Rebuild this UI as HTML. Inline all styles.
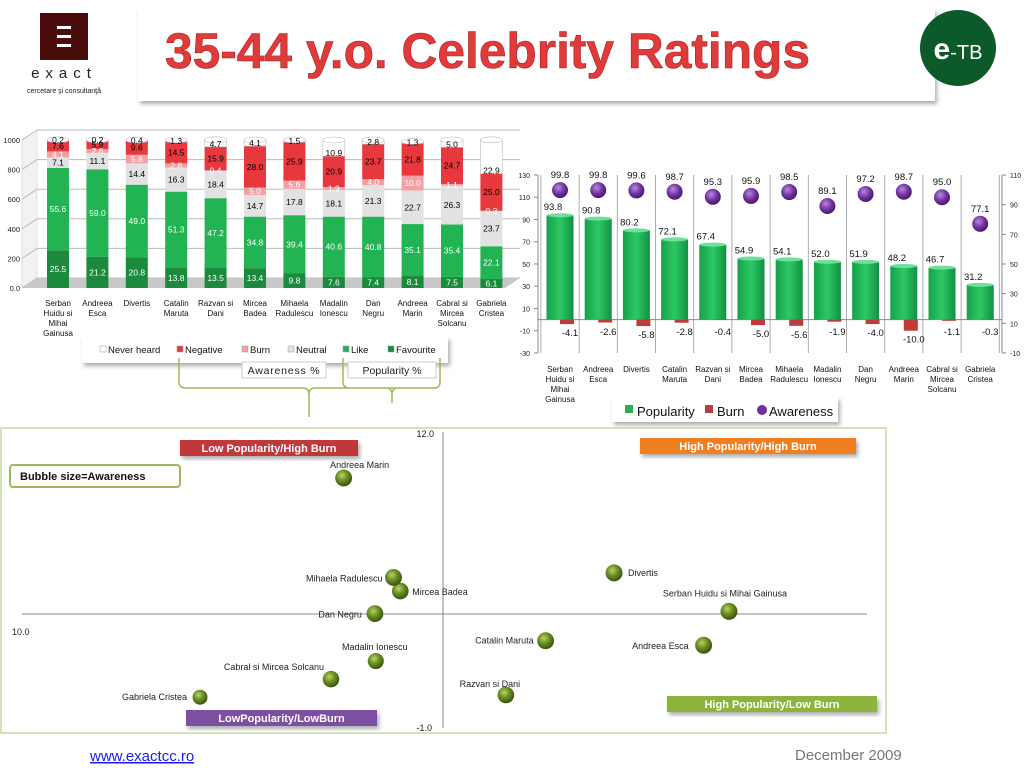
<!DOCTYPE html>
<html><head><meta charset="utf-8"><style>
html,body{margin:0;padding:0;background:#fff;}
svg{display:block;font-family:"Liberation Sans",sans-serif;}
</style></head><body>
<svg id="s" width="1024" height="768" viewBox="0 0 1024 768" xmlns="http://www.w3.org/2000/svg">
<defs>
<radialGradient id="bubgrad" cx="40%" cy="35%" r="65%"><stop offset="0" stop-color="#b7d36a"/><stop offset="0.5" stop-color="#6a8e22"/><stop offset="1" stop-color="#3b5410"/></radialGradient>
<radialGradient id="pur" cx="40%" cy="35%" r="65%"><stop offset="0" stop-color="#b58ad8"/><stop offset="0.6" stop-color="#7030a0"/><stop offset="1" stop-color="#4a1a70"/></radialGradient>
<linearGradient id="gbar" x1="0" x2="1"><stop offset="0" stop-color="#16a14a"/><stop offset="0.5" stop-color="#2dc864"/><stop offset="1" stop-color="#139042"/></linearGradient>
<filter id="sh" x="-10%" y="-10%" width="130%" height="140%"><feDropShadow dx="2" dy="3" stdDeviation="2" flood-color="#888" flood-opacity="0.7"/></filter>
</defs>
<!-- header -->
<g>
<rect x="40" y="13" width="48" height="47" fill="#4a0b0b"/>
<rect x="57" y="26" width="14" height="3" fill="#fff"/><rect x="57" y="35" width="14" height="3" fill="#fff"/><rect x="57" y="44" width="14" height="3" fill="#fff"/>
<text x="64" y="78" font-size="15" text-anchor="middle" letter-spacing="6" fill="#222">exact</text>
<text x="64" y="93" font-size="7" text-anchor="middle" fill="#222">cercetare şi consultanţă</text>
</g>
<rect x="138" y="9" width="797" height="92" fill="#fff" filter="url(#sh)"/>
<text x="165" y="68" font-size="50" font-weight="bold" textLength="645" lengthAdjust="spacingAndGlyphs" fill="#e03a3a" stroke="#b02020" stroke-width="0.6">35-44 y.o. Celebrity Ratings</text>
<g><circle cx="958" cy="48" r="38" fill="#0c5a2a"/><text x="958" y="59" font-size="30" font-weight="bold" fill="#fff" text-anchor="middle">e<tspan font-size="20" font-weight="normal">-TB</tspan></text></g>

<g id="leftg"></g>
<g id="rightg"></g>
<g id="bubg"></g>

<text x="90" y="761" font-size="15" fill="#1a1aff" text-decoration="underline">www.exactcc.ro</text>
<text x="795" y="760" font-size="15" fill="#777">December  2009</text>
</svg>
<script>
const NS='http://www.w3.org/2000/svg';
const names=[["Serban","Huidu si","Mihai","Gainusa"],["Andreea","Esca"],["Divertis"],["Catalin","Maruta"],["Razvan si","Dani"],["Mircea","Badea"],["Mihaela","Radulescu"],["Madalin","Ionescu"],["Dan","Negru"],["Andreea","Marin"],["Cabral si","Mircea","Solcanu"],["Gabriela","Cristea"]];
const favourite=[25.5,21.2,20.8,13.8,13.5,13.4,9.8,7.6,7.4,8.1,7.5,6.1];
const like=[55.6,59.0,49.0,51.3,47.2,34.8,39.4,40.6,40.8,35.1,35.4,22.1];
const neutral=[7.1,11.1,14.4,16.3,18.4,14.7,17.8,18.1,21.3,22.7,26.3,23.7];
const burnPct=[4.1,2.6,5.8,2.8,0.4,5.0,5.6,1.9,4.0,10.0,1.1,0.3];
const negative=[7.6,5.9,9.6,14.5,15.9,28.0,25.9,20.9,23.7,21.8,24.7,25.0];
const neverHeard=[0.2,0.2,0.4,1.3,4.7,4.1,1.5,10.9,2.8,1.3,5.0,22.9];
const leftTicks=["0.0","200","400","600","800","1000"];
const popularity=[93.8,90.8,80.2,72.1,67.4,54.9,54.1,52.0,51.9,48.2,46.7,31.2];
const burn=[-4.1,-2.6,-5.8,-2.8,-0.4,-5.0,-5.6,-1.9,-4.0,-10.0,-1.1,-0.3];
const awareness=[99.8,99.8,99.6,98.7,95.3,95.9,98.5,89.1,97.2,98.7,95.0,77.1];
const rightTicksL=[-30,-10,10,30,50,70,90,110,130];
const rightTicksR=[-10,10,30,50,70,90,110];
const bubbleLabels=["Serban Huidu si Mihai Gainusa","Andreea Esca","Divertis","Catalin Maruta","Razvan si Dani","Mircea Badea","Mihaela Radulescu","Madalin Ionescu","Dan Negru","Andreea Marin","Cabral si Mircea Solcanu","Gabriela Cristea"];

function el(p,tag,a,txt){const e=document.createElementNS(NS,tag);for(const k in a)e.setAttribute(k,a[k]);if(txt!==undefined)e.textContent=txt;p.appendChild(e);return e;}

// LEFT stacked chart
const L=document.getElementById('leftg');
const ly=v=>288-v*1.48; const lx=i=>58+i*39.4;
el(L,'polygon',{points:'22,288 37,278 37,130 22,140',fill:'#f2f2f2',stroke:'#ccc','stroke-width':0.5});
leftTicks.forEach((t,k)=>{const y=ly(k*20);
 const g=el(L,'polyline',{points:`22,${y} 37,${y-10} 520,${y-10}`,fill:'none',stroke:'#bbb','stroke-width':1});
 
 const tx=el(L,'text',{x:20,y:y+3,'font-size':7.5,'text-anchor':'end',fill:'#222'},t);
 });
el(L,'polygon',{points:'22,288 505,288 520,278 37,278',fill:'#c8c8c8'});
const segs=[[favourite,'#1b8a3c','#fff'],[like,'#22b452','#fff'],[neutral,'#e2e2e2','#000'],[burnPct,'#f2a0a4','#fff'],[negative,'#e8383e','#000'],[neverHeard,'#ffffff','#000']];
const segNames=['favourite','like','neutral','burn','negative','never-heard'];
names.forEach((n,i)=>{let acc=0;const cx=lx(i),w=22;
 segs.forEach((s,k)=>{const v=s[0][i];const y0=ly(acc),y1=ly(acc+v);
  const r=el(L,'rect',{x:cx-w/2,y:y1,width:w,height:y0-y1,fill:s[1],stroke:k==5?'#bbb':'none','stroke-width':0.6});
  
  acc+=v;});
 el(L,'ellipse',{cx:cx,cy:ly(acc),rx:w/2,ry:3,fill:'#fff',stroke:'#bbb','stroke-width':0.6});
 acc=0;
 segs.forEach((s,k)=>{const v=s[0][i];const y0=ly(acc),y1=ly(acc+v);
  const t=el(L,'text',{x:cx,y:Math.max((y0+y1)/2+3,k==5?ly(acc)+0:0),'font-size':8.5,'text-anchor':'middle',fill:s[2]},v.toFixed(1));
  
  acc+=v;});
 n.forEach((line,j)=>{const t=el(L,'text',{x:cx,y:306+j*10,'font-size':8,'text-anchor':'middle',fill:'#111'},line);
  });
});
// left legend
const lg=el(L,'g',{});
el(lg,'rect',{x:82,y:337,width:366,height:26,fill:'#fff',filter:'url(#sh)'});
const legItems=[['Never heard','#fff',100],['Negative','#e8383e',177],['Burn','#f2a0a4',242],['Neutral','#e2e2e2',288],['Like','#22b452',343],['Favourite','#1b8a3c',388]];
legItems.forEach(it=>{el(lg,'rect',{x:it[2],y:346,width:6,height:6,fill:it[1],stroke:'#999','stroke-width':0.5});el(lg,'text',{x:it[2]+8,y:353,'font-size':9.5,fill:'#111'},it[0]);});
const ab=el(L,'g',{});
el(ab,'rect',{x:242,y:362,width:84,height:16,fill:'#fff',stroke:'#ccc'});el(ab,'text',{x:284,y:374,'font-size':10.5,'text-anchor':'middle',fill:'#222','letter-spacing':0.8},'Awareness %');
const pb=el(L,'g',{});
el(pb,'rect',{x:348,y:362,width:88,height:16,fill:'#fff',stroke:'#ccc'});el(pb,'text',{x:392,y:374,'font-size':10.5,'text-anchor':'middle',fill:'#222'},'Popularity %');
const br=el(L,'path',{d:'M179,358 V382 Q179,388 186,388 H303 Q309,388 309,395 V417 M309,395 Q309,388 315,388 H436 M343,358 V382 Q343,388 350,388 H386 Q392,388 392,395 V403 M392,395 Q392,388 398,388 H434 Q440,388 440,382 V358',fill:'none',stroke:'#9bbb59','stroke-width':1.5});


// RIGHT chart
const R=document.getElementById('rightg');
const ry=v=>319.6-v*1.1125; const ry2=v=>175+(110-v)*1.483; const rx=i=>560+i*38.2;
el(R,'line',{x1:538,y1:175,x2:538,y2:353,stroke:'#888'});
el(R,'line',{x1:1002,y1:175,x2:1002,y2:353,stroke:'#888'});
rightTicksL.forEach(v=>{const t=el(R,'text',{x:530,y:ry(v)+3,'font-size':7,'text-anchor':'end',fill:'#222'},v);el(R,'line',{x1:534,y1:ry(v),x2:538,y2:ry(v),stroke:'#888'});});
rightTicksR.forEach(v=>{const t=el(R,'text',{x:1010,y:ry2(v)+3,'font-size':7,fill:'#222'},v);el(R,'line',{x1:1002,y1:ry2(v),x2:1006,y2:ry2(v),stroke:'#888'});});
for(let i=0;i<=12;i++){el(R,'line',{x1:rx(i)-19.1,y1:175,x2:rx(i)-19.1,y2:353,stroke:'#999','stroke-width':0.8});}
el(R,'line',{x1:538,y1:ry(0),x2:1002,y2:ry(0),stroke:'#888'});
popularity.forEach((v,i)=>{const cx=rx(i);
 const b=el(R,'rect',{x:cx-13.5,y:ry(v),width:27,height:ry(0)-ry(v),fill:'url(#gbar)'});
 
 el(R,'ellipse',{cx:cx,cy:ry(v),rx:13.5,ry:2,fill:'#6fe09a'});
 const t=el(R,'text',{x:cx-7,y:ry(v)-5,'font-size':9.5,'text-anchor':'middle',fill:'#111'},v.toFixed(1));
 
 const bv=burn[i];
 const bb=el(R,'rect',{x:cx,y:ry(0),width:14,height:ry(bv)-ry(0),fill:'#c0393b'});
 
 const bt=el(R,'text',{x:cx+10,y:Math.max(ry(bv),ry(-3))+12,'font-size':9.5,'text-anchor':'middle',fill:'#111'},bv.toFixed(1));
 
 const a=awareness[i];
 const c=el(R,'circle',{cx:cx,cy:ry2(a),r:8,fill:'url(#pur)'});
 
 const at=el(R,'text',{x:cx,y:ry2(a)-12,'font-size':9.5,'text-anchor':'middle',fill:'#111'},a.toFixed(1));
 
 names[i].forEach((line,j)=>{const t=el(R,'text',{x:cx,y:372+j*10,'font-size':8,'text-anchor':'middle',fill:'#111'},line);});
});
const rl=el(R,'g',{});
el(rl,'rect',{x:612,y:397,width:226,height:25,fill:'#fff',filter:'url(#sh)'});
el(rl,'rect',{x:625,y:405,width:8,height:8,fill:'#22b452'});el(rl,'text',{x:637,y:416,'font-size':13,fill:'#111'},'Popularity');
el(rl,'rect',{x:705,y:405,width:8,height:8,fill:'#c0393b'});el(rl,'text',{x:717,y:416,'font-size':13,fill:'#111'},'Burn');
el(rl,'circle',{cx:762,cy:410,r:5,fill:'#7030a0'});el(rl,'text',{x:769,y:416,'font-size':13,fill:'#111'},'Awareness');

// BUBBLE chart
const B=document.getElementById('bubg');
const bx=p=>200+(p-31.2)*8.45; const by=b=>478+(10-b)*22.6;
el(B,'rect',{x:1,y:428,width:885,height:305,fill:'#fff',stroke:'#c7d9a8','stroke-width':1.5});
el(B,'line',{x1:443,y1:432,x2:443,y2:728,stroke:'#888'});
el(B,'line',{x1:22,y1:614,x2:867,y2:614,stroke:'#888'});
el(B,'text',{x:434,y:437,'font-size':9,'text-anchor':'end',fill:'#222'},'12.0');
el(B,'text',{x:432,y:731,'font-size':9,'text-anchor':'end',fill:'#222'},'-1.0');
el(B,'text',{x:12,y:635,'font-size':9,fill:'#222'},'10.0');
const quads=[['Low Popularity/High Burn',180,440,178,'#c0393b'],['High Popularity/High Burn',640,438,216,'#f07f22'],['LowPopularity/LowBurn',186,710,191,'#7c4fa0'],['High Popularity/Low Burn',667,696,210,'#8cb43c']];
quads.forEach(q=>{const g=el(B,'g',{});
 el(g,'rect',{x:q[1],y:q[2],width:q[3],height:16,fill:q[4],filter:'url(#sh)'});
 el(g,'text',{x:q[1]+q[3]/2,y:q[2]+12,'font-size':11,'font-weight':'bold','text-anchor':'middle',fill:'#fff'},q[0]);});
const bs=el(B,'g',{});
el(bs,'rect',{x:10,y:465,width:170,height:22,rx:3,fill:'#fff',stroke:'#9bbb59','stroke-width':2});
el(bs,'text',{x:20,y:480,'font-size':11,'font-weight':'bold',fill:'#111'},'Bubble size=Awareness');
const lp=[[-4,-15,'middle'],[-15,4,'end'],[14,3,'start'],[-12,3,'end'],[-16,-8,'middle'],[12,4,'start'],[-11,4,'end'],[-1,-11,'middle'],[-13,4,'end'],[16,-10,'middle'],[-7,-9,'end'],[-13,3,'end']];
popularity.forEach((p,i)=>{const b=-burn[i];const cx=bx(p),cy=by(b);const r=8.5*Math.sqrt(awareness[i]/99.8);
 const c=el(B,'circle',{cx:cx,cy:cy,r:r,fill:'url(#bubgrad)'});
 
 const t=el(B,'text',{x:cx+lp[i][0],y:cy+lp[i][1],'font-size':9,'text-anchor':lp[i][2],fill:'#222'},bubbleLabels[i]);
 });
</script>
</body></html>
